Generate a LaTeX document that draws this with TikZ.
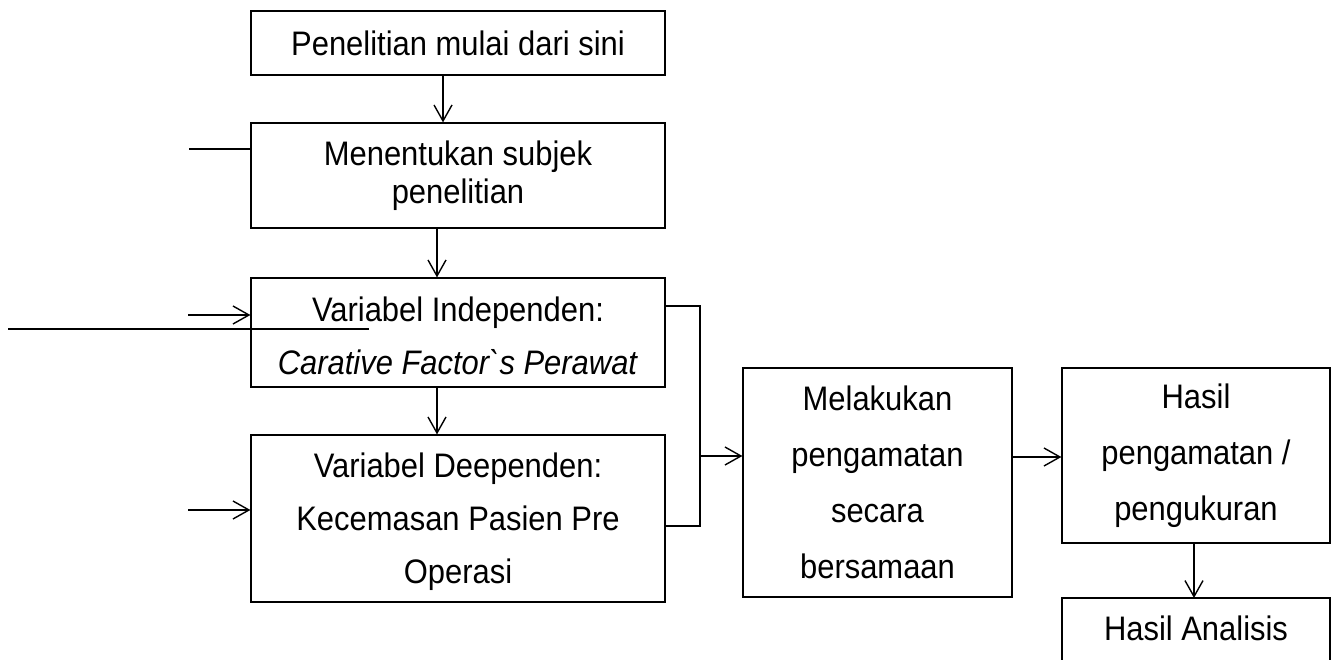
\documentclass[tikz,border=0pt]{standalone}
\usepackage{fontspec}
\setmainfont{Liberation Sans}[FakeStretch=0.91, Ligatures=TeXOff]
\usetikzlibrary{arrows.meta}
\tikzset{
  box/.style={draw=black, line width=1.2pt, rectangle, inner sep=0pt, align=center,
    font=\fontsize{34}{53}\selectfont},
  txt/.style={inner sep=0pt, align=center, font=\fontsize{34}{53}\selectfont},
  tight/.style={font=\fontsize{34}{38}\selectfont},
  wide/.style={font=\fontsize{34}{56}\selectfont},
  conn/.style={draw=black, line width=1.5pt},
  arr/.style={conn, -{Straight Barb[length=16pt,width=18pt,line width=1.4pt]}},
}
\begin{document}
\begin{tikzpicture}[x=1pt,y=-1pt]
\useasboundingbox (0,0) rectangle (1331,660);
% boxes
\node[box, minimum width=414pt, minimum height=64pt] (b1) at (458,43) {Penelitian mulai dari sini};
\node[box, tight, minimum width=414pt, minimum height=105pt] (b2) at (458,175.5) {Menentukan subjek\\penelitian};
\node[box, minimum width=414pt, minimum height=109pt] (b3) at (458,332.5) {};
\node[txt] (b3t) at (458,336) {Variabel Independen:\\\textit{Carative Factor`s Perawat}};
\node[box, minimum width=414pt, minimum height=167pt] (b4) at (458,518.5) {};
\node[txt] (b4t) at (458,522) {Variabel Deependen:\\Kecemasan Pasien Pre\\Operasi};
\node[box, wide, minimum width=269pt, minimum height=229pt] (b5) at (877.5,482.5) {Melakukan\\pengamatan\\secara\\bersamaan};
\node[box, wide, minimum width=268pt, minimum height=175pt] (b6) at (1196,455.5) {Hasil\\pengamatan /\\pengukuran};
\node[txt] (b7) at (1196,628) {Hasil Analisis};
\coordinate (b7tl) at (1062,598);
\coordinate (b7tr) at (1330,598);
\coordinate (b7bl) at (1062,665);
\coordinate (b7br) at (1330,665);
\draw[line width=1.2pt] (b7bl) -- (b7tl) -- (b7tr) -- (b7br);
% vertical arrows
\draw[arr] ([xshift=-15pt]b1.south) -- ([xshift=-15pt]b2.north);
\draw[arr] ([xshift=-21pt]b2.south) -- ([xshift=-21pt]b3.north);
\draw[arr] ([xshift=-21pt]b3.south) -- ([xshift=-21pt]b4.north);
\draw[arr] ([xshift=-2pt]b6.south) -- ([xshift=-2pt]b7tl -| b6.south);
% left side lines
\coordinate (l2) at (189,149);
\draw[conn] (l2) -- (l2 -| b2.west);
\coordinate (l3) at (188,315);
\draw[arr] (l3) -- (l3 -| b3.west);
\coordinate (la) at (8,329);
\coordinate (lb) at (369,329);
\draw[conn] (la) -- (lb);
\coordinate (l4) at (188,510);
\draw[arr] (l4) -- (l4 -| b4.west);
% bracket
\coordinate (k1) at (700,306);
\coordinate (k2) at (700,526);
\coordinate (k3) at (700,456);
\draw[conn] (k1 -| b3.east) -- (k1) -- (k2) -- (k2 -| b4.east);
\draw[arr] (k3) -- (k3 -| b5.west);
% box5 to box6
\coordinate (m1) at (1012,457);
\draw[arr] (m1 -| b5.east) -- (m1 -| b6.west);
\end{tikzpicture}
\end{document}
